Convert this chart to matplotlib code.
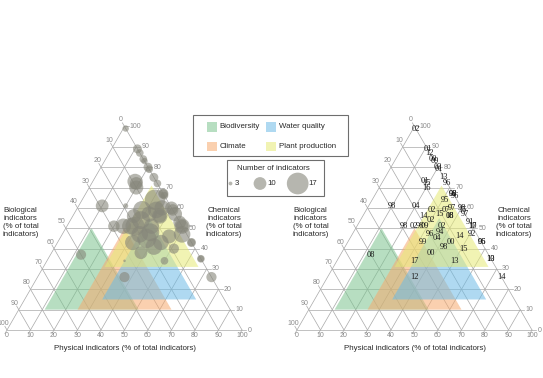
import numpy as np
import matplotlib.pyplot as plt
from matplotlib.patches import Polygon, Rectangle

plt.rcParams['font.family'] = ['Liberation Sans', 'DejaVu Sans']

# studies: share of physical / chemical / biological indicators (%), year, number of indicators
physical = [1, 11, 13, 16, 17, 20, 21, 25, 28, 18, 19, 20, 33, 33, 34, 31, 36, 40, 41, 43,
            47, 49, 49, 51, 57, 57, 65, 65, 74, 10, 20, 28, 34, 32, 37, 37, 26, 30, 20, 24,
            27, 29, 36, 33, 37, 46, 32, 37, 42, 44, 51, 38, 13, 33, 50, 37]
chemical = [99, 89, 87, 84, 83, 80, 79, 75, 72, 73, 72, 70, 67, 67, 66, 64, 60, 60, 59, 57,
            53, 51, 51, 47, 43, 43, 35, 35, 26, 61, 61, 59, 59, 57, 56, 56, 56, 54, 51, 51,
            51, 51, 51, 47, 48, 46, 43, 45, 41, 43, 40, 38, 37, 34, 34, 26]
biological = [0, 0, 0, 0, 0, 0, 0, 0, 0, 9, 9, 10, 0, 0, 0, 5, 4, 0, 0, 0,
              0, 0, 0, 2, 0, 0, 0, 0, 0, 29, 19, 13, 7, 11, 7, 7, 18, 16, 29, 25,
              22, 20, 13, 20, 15, 8, 25, 18, 17, 13, 9, 24, 50, 33, 16, 37]
years = ['02', '01', '12', '00', '09', '03', '01', '13', '96', '01', '15', '16', '98', '08',
         '96', '95', '97', '98', '15', '97', '91', '10', '17', '92', '96', '06', '10', '13',
         '14', '98', '04', '02', '07', '15', '18', '08', '14', '02', '98', '02', '98', '09',
         '02', '96', '94', '14', '99', '04', '98', '00', '15', '00', '08', '17', '13', '12']
n_indicators = [5, 7, 6, 6, 5, 7, 6, 7, 6, 12, 10, 11, 8, 7, 6, 16, 12, 10, 9, 11,
                10, 12, 10, 13, 7, 6, 6, 5, 8, 10, 4, 14, 13, 12, 12, 10, 11, 14, 9, 12,
                13, 15, 12, 13, 14, 11, 12, 15, 13, 12, 8, 10, 8, 2, 6, 8]

# ecosystem service regions (triangle corners)
services = ['Biodiversity', 'Water quality', 'Climate', 'Plant production']
region_physical = [[11, 51, 11], [33, 73, 33], [25, 65, 25], [26, 66, 26]]
region_chemical = [[10, 10, 50], [15, 15, 55], [10, 10, 50], [31, 31, 71]]
region_colors = ['#7cc48f', '#6dbbe6', '#f6aa6e', '#e6ea76']
draw_order = [0, 2, 1, 3]

size_legend = [3, 10, 17]

SIDE = 235.0
HGT = SIDE * np.sqrt(3) / 2
BASE_Y = 330.0
GRID = '#a8a8a8'
TICK = '#8a8a8a'


def tern(p, c, x0, b=None):
    p = np.asarray(p, float)
    c = np.asarray(c, float)
    if b is not None:
        tot = p + c + np.asarray(b, float)
        p, c = 100 * p / tot, 100 * c / tot
    return x0 + SIDE * (p + c / 2) / 100, BASE_Y - HGT * c / 100


def bubble_size(n):
    return (0.92 * np.asarray(n, float)) ** 2


def draw_frame(ax, x0):
    ext = 1.8
    for v in range(0, 101, 10):
        lab = str(v)
        # chemical: horizontal lines, labels on the right
        xs, ys = tern([0, 100 - v + ext], [v, v], x0)
        ax.plot(xs, ys, color=GRID, lw=0.5, zorder=1)
        lx, ly = tern(100 - v + 2.3, v, x0)
        ax.text(lx, ly, lab, color=TICK, fontsize=5, ha='left', va='center')
        # biological: lines parallel to right edge, labels up-left
        xs, ys = tern([100 - v, -ext], [0, 100 - v + ext], x0)
        ax.plot(xs, ys, color=GRID, lw=0.5, zorder=1)
        lx, ly = tern(-3.2, 100 - v + 3.2, x0)
        ax.text(lx, ly, lab, color=TICK, fontsize=5, ha='center', va='center')
        # physical: lines parallel to left edge, labels below
        xs, ys = tern([v, v], [100 - v, -ext], x0)
        ax.plot(xs, ys, color=GRID, lw=0.5, zorder=1)
        lx, ly = tern(v, 0, x0)
        ax.text(lx, ly + 5.5, lab, color=TICK, fontsize=5, ha='center', va='center')

    for i in draw_order:
        xs, ys = tern(region_physical[i], region_chemical[i], x0)
        ax.add_patch(Polygon(np.column_stack([xs, ys]), closed=True, fc=region_colors[i],
                             ec='none', alpha=0.55, zorder=2))

    tc = '#2a2a2a'
    ax.text(x0 + 13.5, 222, 'Biological\nindicators\n(% of total\nindicators)', fontsize=5.7,
            ha='center', va='center', color=tc, linespacing=1.2)
    ax.text(x0 + 217, 222, 'Chemical\nindicators\n(% of total\nindicators)', fontsize=5.7,
            ha='center', va='center', color=tc, linespacing=1.2)
    ax.text(x0 + 118, 348, 'Physical indicators (% of total indicators)', fontsize=5.7,
            ha='center', va='center', color=tc)


fig = plt.figure(figsize=(5.43, 3.78), dpi=100)
ax = fig.add_axes([0, 0, 1, 1])
ax.set_xlim(0, 543)
ax.set_ylim(378, 0)
ax.axis('off')

# left panel: bubbles sized by number of indicators
draw_frame(ax, 7)
bx, by = tern(physical, chemical, 7, biological)
ax.scatter(bx, by, s=bubble_size(n_indicators), color='#86867a', alpha=0.6,
           edgecolors='none', zorder=3)

# right panel: publication years
draw_frame(ax, 297)
yx, yy = tern(physical, chemical, 297, biological)
for x, y, t in zip(yx, yy, years):
    ax.text(x, y, t, fontsize=6, family=['Liberation Serif', 'DejaVu Serif'],
            color='#1a1a1a', ha='center', va='center', zorder=4)

# legend: ecosystem services
ax.add_patch(Rectangle((193.3, 115), 154.4, 40.7, fc='white', ec='#6e6e6e', lw=0.8, zorder=5))
sw_pos = [(206.7, 127), (266, 127), (206.7, 146.7), (266, 146.7)]
for i, (sx, sy) in enumerate(sw_pos):
    ax.add_patch(Rectangle((sx, sy - 4.8), 10, 9.6, fc=region_colors[i], alpha=0.55,
                           ec='none', zorder=6))
    ax.text(sx + 12.8, sy, services[i], fontsize=5.7, ha='left', va='center',
            color='#2a2a2a', zorder=6)

# legend: bubble sizes
ax.add_patch(Rectangle((227.3, 160), 97, 35.7, fc='white', ec='#6e6e6e', lw=0.8, zorder=5))
ax.text(273.3, 168, 'Number of indicators', fontsize=5.7, ha='center', va='center',
        color='#2a2a2a', zorder=6)
leg_x = [230.5, 260, 297.7]
lab_x = [234.5, 267.5, 308.5]
ax.scatter(leg_x, [183.5] * 3, s=bubble_size(size_legend), color='#86867a', alpha=0.6,
           edgecolors='none', zorder=6)
for lx, n in zip(lab_x, size_legend):
    ax.text(lx, 183.5, str(n), fontsize=5.7, ha='left', va='center', color='#2a2a2a', zorder=6)

fig.savefig('out.png', dpi=100)
